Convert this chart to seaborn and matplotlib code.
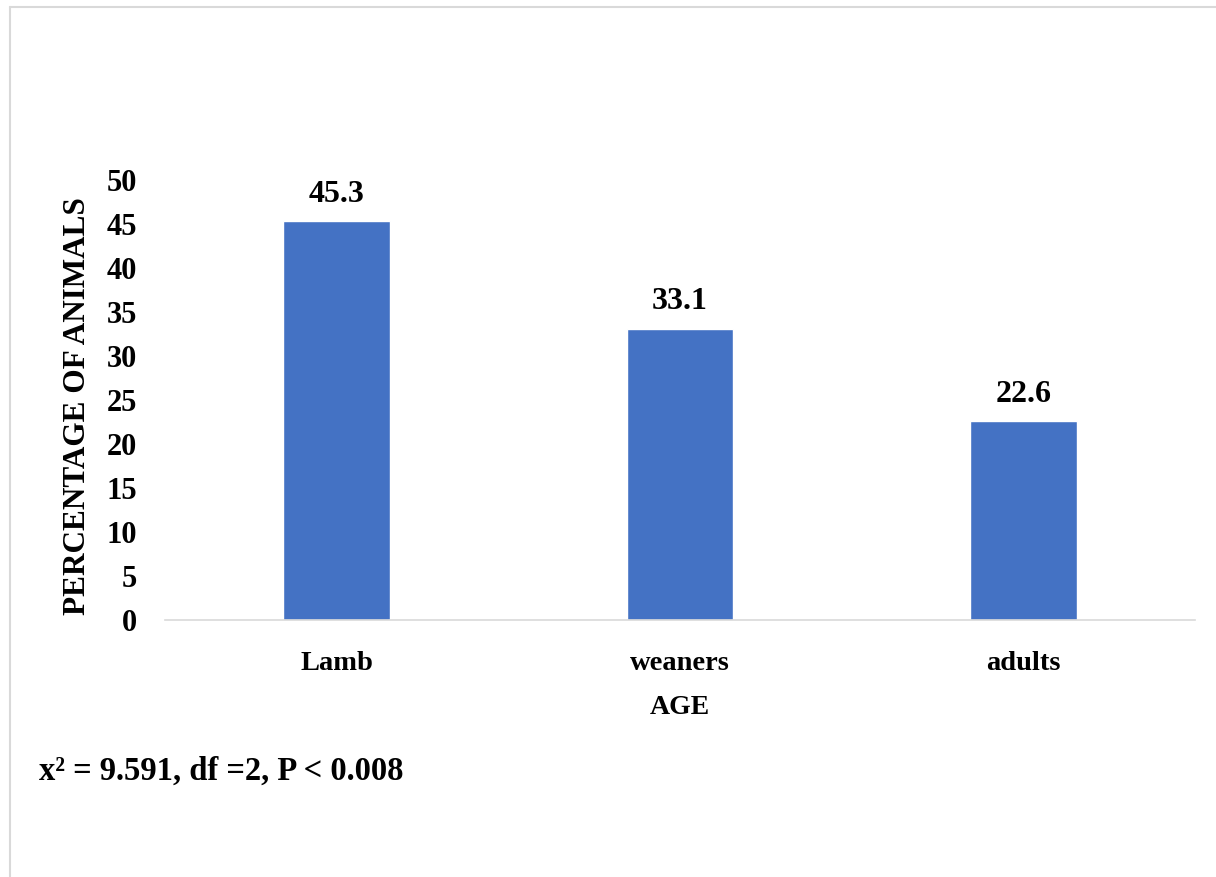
import matplotlib
matplotlib.use("Agg")
import matplotlib.pyplot as plt
from matplotlib.lines import Line2D
import seaborn as sns
import pandas as pd

# Age groups and share of animals in each (%)
age_groups = ["Lamb", "weaners", "adults"]
percentages = [45.3, 33.1, 22.6]
y_ticks = [0, 5, 10, 15, 20, 25, 30, 35, 40, 45, 50]
stats_note = "x\u00b2 = 9.591, df =2, P < 0.008"

df = pd.DataFrame({"age": age_groups, "pct": percentages})

sns.set_theme(style="white")
plt.rcParams["font.family"] = ["Liberation Serif", "DejaVu Serif"]
plt.rcParams["font.weight"] = "bold"
plt.rcParams["text.color"] = "black"

W, H = 1216, 877
fig = plt.figure(figsize=(W / 100, H / 100), dpi=100, facecolor="white")
ax = fig.add_axes([165 / W, 1 - 620 / H, 1030 / W, 440 / H])

sns.barplot(data=df, x="age", y="pct", color="#4472C4", width=0.31,
            saturation=1, ax=ax, order=age_groups)

ax.set_xlim(-0.5, 2.5)
ax.set_ylim(0, 50)
ax.set_yticks(y_ticks)
ax.set_yticklabels([str(t) for t in y_ticks], fontsize=22, fontweight="bold")
ax.set_xticks(range(len(age_groups)))
ax.set_xticklabels(age_groups, fontsize=20.5, fontweight="bold")
ax.tick_params(axis="y", length=0, pad=20, labelcolor="black")
ax.tick_params(axis="x", length=0, pad=22, labelcolor="black")

for side in ["left", "right", "top"]:
    ax.spines[side].set_visible(False)
ax.spines["bottom"].set_color("#D9D9D9")
ax.spines["bottom"].set_linewidth(1.2)
ax.grid(False)

for container in ax.containers:
    ax.bar_label(container, labels=[f"{v:.1f}" for v in percentages],
                 padding=9, fontsize=23, fontweight="bold", color="black")

ax.set_xlabel("AGE", fontsize=20, fontweight="bold", color="black")
ax.set_ylabel("PERCENTAGE OF ANIMALS", fontsize=22.5, fontweight="bold",
              color="black")
ax.xaxis.set_label_coords(0.5, (620 - 695) / 440)
ax.yaxis.set_label_coords((92 - 165) / 1030, (620 - 406) / 440)

fig.text(39 / W, 1 - 771 / H, stats_note, fontsize=23.5, fontweight="bold",
         ha="left", va="center", color="black")

# light outline along the top and left of the figure
fig.add_artist(Line2D([10 / W, 10 / W], [1 - 6.5 / H, 0], color="#D9D9D9",
                      lw=1.5, transform=fig.transFigure))
fig.add_artist(Line2D([10 / W, 1], [1 - 6.5 / H, 1 - 6.5 / H], color="#D9D9D9",
                      lw=1.5, transform=fig.transFigure))

fig.savefig("out.png", dpi=100, facecolor="white")
